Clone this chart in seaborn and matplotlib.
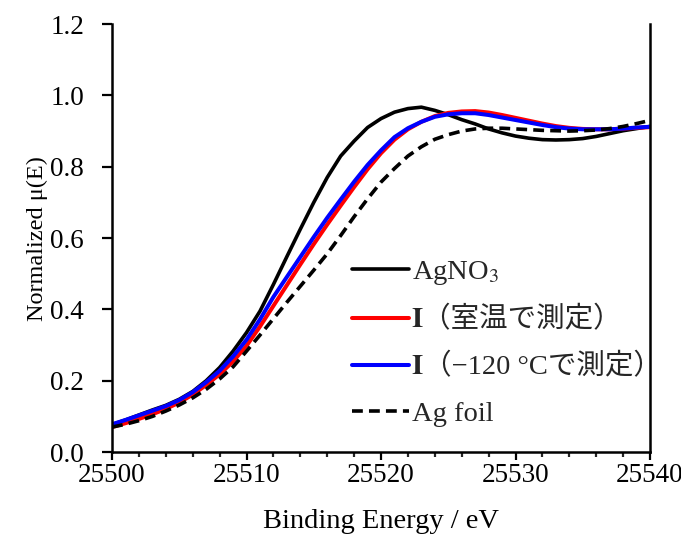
import matplotlib
matplotlib.use('Agg')
import matplotlib.pyplot as plt
import seaborn as sns
from matplotlib.ticker import MultipleLocator, FormatStrFormatter

sns.set_theme(style='ticks')
plt.rcParams['font.family'] = ['Liberation Serif', 'STIXGeneral', 'Noto Sans CJK JP', 'DejaVu Serif']
plt.rcParams['mathtext.fontset'] = 'stix'

energy = list(range(25500, 25541))

agno3 = [0.077, 0.090, 0.104, 0.118, 0.131, 0.148, 0.170, 0.200, 0.237, 0.283,
         0.335, 0.395, 0.470, 0.548, 0.625, 0.700, 0.770, 0.830, 0.872, 0.910,
         0.935, 0.953, 0.963, 0.967, 0.958, 0.946, 0.932, 0.920, 0.906, 0.895,
         0.886, 0.880, 0.876, 0.875, 0.876, 0.879, 0.885, 0.893, 0.901, 0.907,
         0.913]

sample_rt = [0.070, 0.081, 0.093, 0.106, 0.121, 0.139, 0.161, 0.188, 0.218, 0.254,
             0.298, 0.352, 0.410, 0.468, 0.526, 0.583, 0.638, 0.691, 0.743, 0.793,
             0.838, 0.876, 0.905, 0.926, 0.942, 0.951, 0.955, 0.956, 0.952, 0.945,
             0.937, 0.929, 0.921, 0.914, 0.909, 0.906, 0.905, 0.905, 0.907, 0.909,
             0.911]

sample_lt = [0.078, 0.090, 0.103, 0.116, 0.129, 0.146, 0.168, 0.196, 0.228, 0.268,
             0.315, 0.372, 0.435, 0.491, 0.547, 0.603, 0.657, 0.708, 0.758, 0.805,
             0.846, 0.883, 0.908, 0.926, 0.940, 0.947, 0.950, 0.950, 0.945, 0.938,
             0.931, 0.924, 0.917, 0.911, 0.907, 0.905, 0.905, 0.905, 0.907, 0.910,
             0.912]

ag_foil = [0.070, 0.078, 0.088, 0.100, 0.115, 0.132, 0.152, 0.176, 0.205, 0.239,
           0.283, 0.328, 0.374, 0.420, 0.465, 0.510, 0.556, 0.607, 0.660, 0.710,
           0.757, 0.795, 0.830, 0.856, 0.877, 0.890, 0.900, 0.906, 0.908, 0.908,
           0.906, 0.904, 0.902, 0.901, 0.900, 0.901, 0.903, 0.907, 0.913, 0.921,
           0.930]

labels = [r'AgNO$_3$', '𝐈（室温で測定）', '𝐈（−120 °Cで測定）', 'Ag foil']

fig = plt.figure(figsize=(6.81, 5.35), dpi=100)
ax = fig.add_axes([0.1645, 0.155, 0.79, 0.80])

sns.lineplot(x=energy, y=agno3, color='black', lw=2.6, label=labels[0], ax=ax)
sns.lineplot(x=energy, y=sample_rt, color='#ff0000', lw=2.9, label=labels[1], ax=ax)
sns.lineplot(x=energy, y=sample_lt, color='#0000ff', lw=2.9, label=labels[2], ax=ax)
sns.lineplot(x=energy, y=ag_foil, color='black', lw=2.6, label=labels[3], ax=ax)
ax.lines[3].set_dashes([3.0, 1.7])

ax.set_xlim(25500, 25540)
ax.set_ylim(0, 1.2)
ax.xaxis.set_major_locator(MultipleLocator(10))
ax.xaxis.set_minor_locator(MultipleLocator(2))
ax.yaxis.set_major_locator(MultipleLocator(0.2))
ax.yaxis.set_major_formatter(FormatStrFormatter('%.1f'))

ax.tick_params(axis='x', which='major', direction='out', length=6, width=1.6,
               labelsize=19.5, colors='black', pad=2)
ax.tick_params(axis='x', which='minor', direction='out', length=3.5, width=1.6)
ax.tick_params(axis='y', which='major', direction='out', length=7, width=1.6,
               labelsize=19.5, colors='black', pad=13)

ax.spines['top'].set_visible(False)
for s in ['left', 'bottom', 'right']:
    ax.spines[s].set_linewidth(1.8)
    ax.spines[s].set_color('black')

ax.set_xlabel('Binding Energy / eV', fontsize=20.5, color='black', labelpad=15)
ax.set_ylabel('Normalized μ(E)', fontsize=17.5, color='black', labelpad=2)

ax.legend(loc='upper left', bbox_to_anchor=(0.446, 0.452), frameon=False,
          fontsize=20.5, handlelength=2.0, handletextpad=0.1, labelspacing=0.7,
          borderaxespad=0, borderpad=0)

fig.savefig('out.png', dpi=100)
